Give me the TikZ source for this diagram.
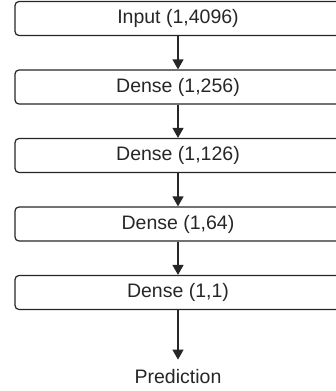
\documentclass[tikz,border=0pt]{standalone}
\usepackage{fontspec}
\setmainfont{Liberation Sans}
\usepackage{tikz}
\usetikzlibrary{arrows.meta}

\begin{document}
\begin{tikzpicture}[x=1pt,y=-1pt]
            \tikzstyle{every node}=[font=\fontsize{19.5}{23}\selectfont, text=black!85]
            \tikzstyle{layer}=[draw=black!85, line width=1.2pt, rounded corners=4pt, minimum width=326pt, minimum height=34pt]
            \tikzstyle{flow}=[draw=black!85, line width=1.2pt, -{Triangle[width=11pt,length=10pt]}]
            \clip (0,0) rectangle (336,391);
            \node [layer] (inp) at (178,18.5) {Input (1,4096)};
            \node [layer] (d256) at (178,87) {Dense (1,256)};
            \node [layer] (d126) at (178,155.5) {Dense (1,126)};
            \node [layer] (d64) at (178,224) {Dense (1,64)};
            \node [layer] (d1) at (178,292.5) {Dense (1,1)};
            \node [inner ysep=10pt] (pred) at (178,377) {Prediction};
            \draw [flow] (inp) -- (d256);
            \draw [flow] (d256) -- (d126);
            \draw [flow] (d126) -- (d64);
            \draw [flow] (d64) -- (d1);
            \draw [flow] (d1) -- (pred);
        \end{tikzpicture}
\end{document}
